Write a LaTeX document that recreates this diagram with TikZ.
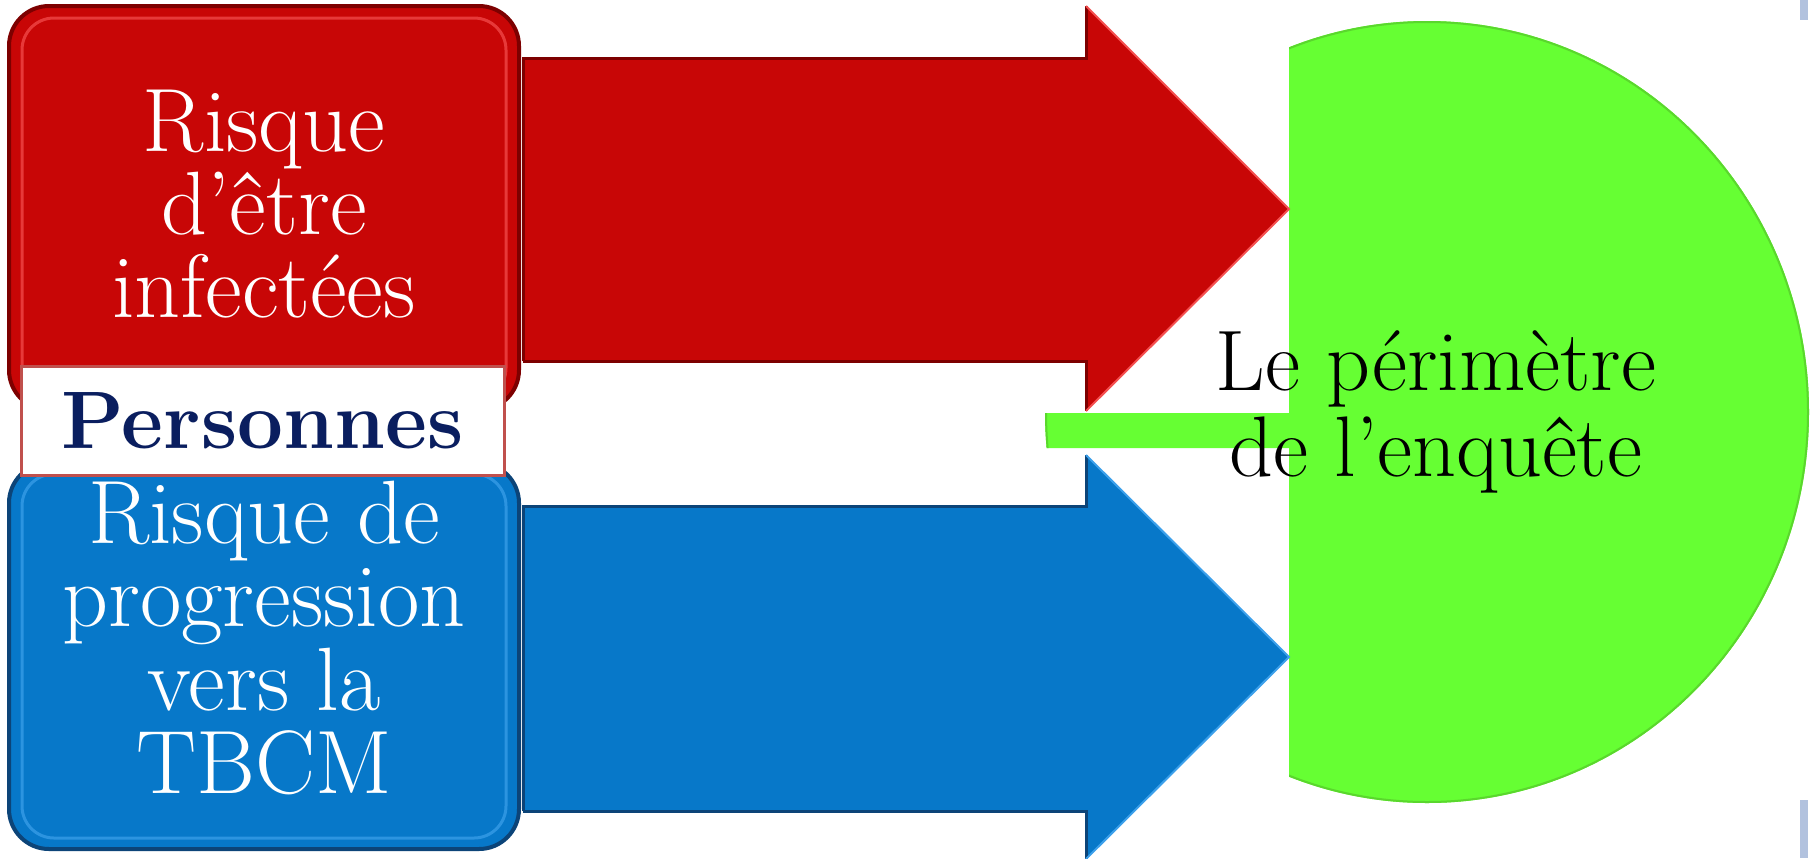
\documentclass[tikz,border=0pt]{standalone}
\usepackage{fontspec}
\definecolor{boxred}{RGB}{200,6,6}
\definecolor{boxreddark}{RGB}{125,0,0}
\definecolor{boxredlight}{RGB}{245,80,80}
\definecolor{boxblue}{RGB}{7,120,201}
\definecolor{boxbluedark}{RGB}{12,68,120}
\definecolor{boxbluelight}{RGB}{60,160,235}
\definecolor{perimgreen}{RGB}{102,255,51}
\definecolor{perimedge}{RGB}{90,215,45}
\definecolor{labelnavy}{RGB}{10,30,95}
\definecolor{labelborder}{RGB}{192,80,77}
\definecolor{slateedge}{RGB}{178,194,222}

\begin{document}
\begin{tikzpicture}[x=0.5pt,y=-0.5pt,
  riskbox/.style={rectangle, rounded corners=20pt, minimum width=255pt, inner sep=0pt, line width=2pt},
  bevel/.style={rounded corners=16pt, line width=1.5pt, opacity=0.7},
  boxtext/.style={text=white, align=center, inner sep=0pt, font=\fontsize{45}{41.6}\selectfont},
  perimtext/.style={text=black, align=center, inner sep=0pt, font=\fontsize{43}{42.9}\selectfont},
  tag/.style={rectangle, draw=labelborder, line width=1.5pt, fill=white, minimum width=241.5pt, minimum height=54.5pt, inner sep=0pt, text=labelnavy, font=\bfseries\fontsize{40.8}{42}\selectfont}
]
\useasboundingbox (0,0) rectangle (1816,858);
\fill[white] (0,0) rectangle (1816,858);

% green disc: part of an ellipse right of the arrow tips, plus a thin strip
\begin{scope}
  \clip (1289,0) rectangle (1816,858) (1000,413) rectangle (1289,448);
  \fill[perimgreen] (1427,412) ellipse [x radius=382, y radius=391];
  \draw[perimedge, line width=1pt] (1427,412) ellipse [x radius=381, y radius=390];
\end{scope}

% red box
\node[riskbox, fill=boxred, draw=boxreddark, minimum height=202pt] (infbox) at (264,208) {};
\draw[bevel, boxredlight] (22,18) rectangle (506,400);

% blue box
\node[riskbox, fill=boxblue, draw=boxbluedark, minimum height=193pt] (progbox) at (264,656) {};
\draw[bevel, boxbluelight] (22,474) rectangle (506,838);

% label between the boxes
\node[tag] (persons) at (262.5,420.5) {Personnes};

% red arrow
\fill[boxred] (523,58) -- (1086,58) -- (1086,6) -- (1289,209) -- (1086,411) -- (1086,361) -- (523,361) -- cycle;
\draw[boxreddark, line width=1.5pt] (523,361) -- (523,58) -- (1086,58) -- (1086,6);
\draw[boxreddark, line width=1.5pt] (523,361) -- (1086,361) -- (1086,411);
\draw[boxredlight, line width=1pt] (1086,6) -- (1289,209) -- (1086,411);

% blue arrow
\fill[boxblue] (523,506) -- (1086,506) -- (1086,455) -- (1289,657) -- (1086,859) -- (1086,811) -- (523,811) -- cycle;
\draw[boxbluedark, line width=1.5pt] (523,811) -- (523,506) -- (1086,506) -- (1086,455);
\draw[boxbluedark, line width=1.5pt] (523,811) -- (1086,811) -- (1086,859);
\draw[boxbluelight, line width=1pt] (1086,455) -- (1289,657) -- (1086,859);

% texts
\node[boxtext] (inftext) at (264,204) {Risque\\d'être\\infectées};
\node[boxtext] (progtext) at (264,638) {Risque de\\progression\\vers la\\TBCM};
\node[perimtext] (perimeter) at (1436,412) {Le périmètre\\de l'enquête};

% slide edge marks
\fill[slateedge] (1800,0) rectangle (1808,20);
\fill[slateedge] (1800,800) rectangle (1808,858);
\end{tikzpicture}
\end{document}
